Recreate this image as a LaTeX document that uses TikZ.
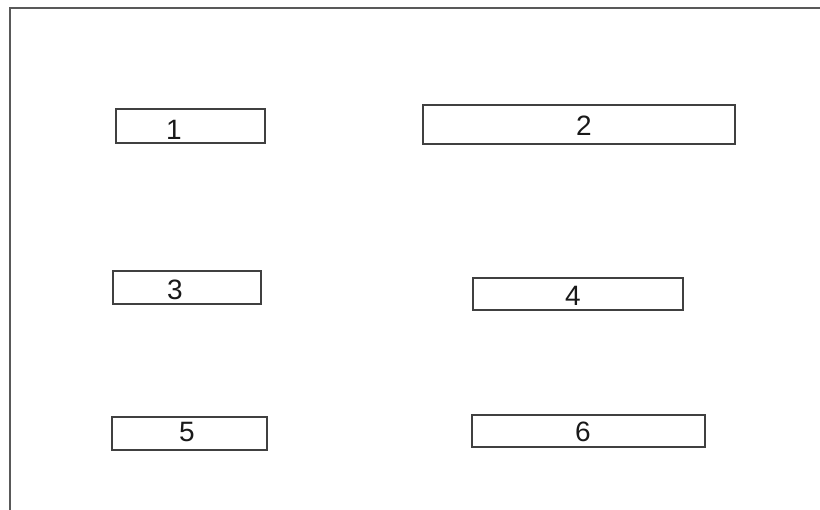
\documentclass[tikz,border=0pt]{standalone}
\usepackage{fontspec}
\setmainfont{Liberation Sans}
\begin{document}
\begin{tikzpicture}[x=1pt,y=-1pt,
  boxst/.style={draw=black!75,line width=1.3pt,fill=white,inner sep=0pt,outer sep=0pt},
  lbl/.style={inner sep=0pt,font=\fontsize{28}{28}\selectfont,text=black!90}]
\useasboundingbox (0,0) rectangle (820,510);
\draw[black!65,line width=1.6pt] (10,510) -- (10,8) -- (820,8);
\node[boxst,minimum width=149pt,minimum height=34pt] (b1) at (190.5,126) {};
\node[boxst,minimum width=312pt,minimum height=39pt] (b2) at (579,124.5) {};
\node[boxst,minimum width=148pt,minimum height=33pt] (b3) at (187,287.5) {};
\node[boxst,minimum width=210pt,minimum height=32pt] (b4) at (578,294) {};
\node[boxst,minimum width=155pt,minimum height=33pt] (b5) at (189.5,433.5) {};
\node[boxst,minimum width=233pt,minimum height=32pt] (b6) at (588.5,431) {};
\node[lbl] (t1) at (174,130) {1};
\node[lbl] (t2) at (584,126) {2};
\node[lbl] (t3) at (175,290) {3};
\node[lbl] (t4) at (573,296) {4};
\node[lbl] (t5) at (187,432.5) {5};
\node[lbl] (t6) at (583,431.5) {6};
\end{tikzpicture}
\end{document}
